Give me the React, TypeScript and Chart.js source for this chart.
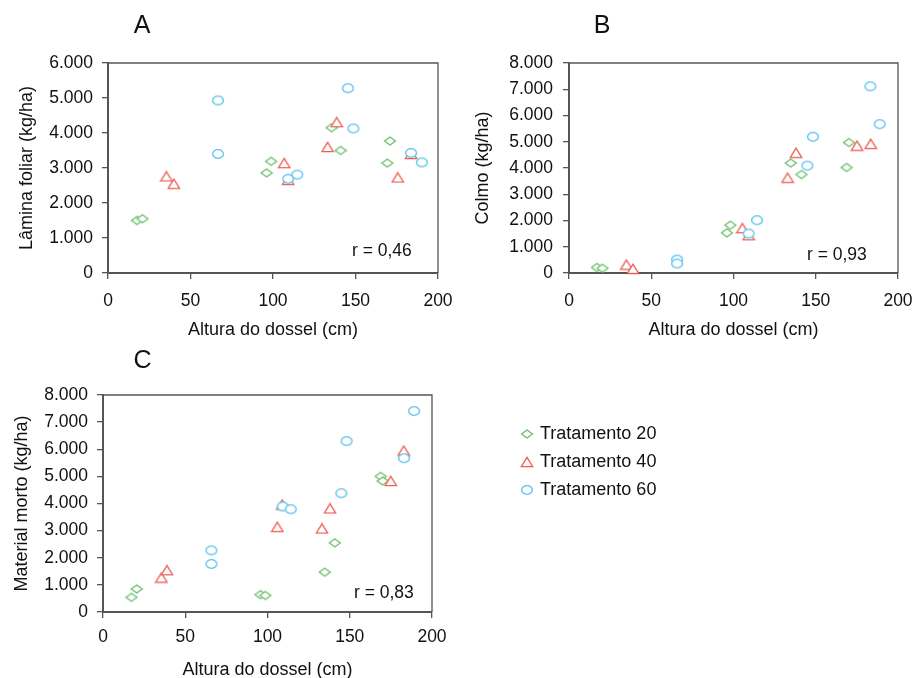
import React, { useEffect, useRef } from 'react';
import { Chart, registerables } from 'chart.js';
Chart.register(...registerables);

// ---------- data ----------
const seriesNames = ['Tratamento 20', 'Tratamento 40', 'Tratamento 60'];
const seriesColors = ['#69be6b', '#ef5f55', '#5cc3ee'];
const xTicksMax = 200;
const xStep = 50;

// Panel A – Lâmina foliar
const aHeight20 = [17.6, 20.9, 96.1, 98.9, 135.5, 141.0, 170.9, 169.3];
const aLamina20 = [1500, 1550, 2860, 3190, 4150, 3500, 3770, 3140];
const aHeight40 = [35.4, 39.9, 106.8, 109.2, 133.1, 138.6, 175.6, 183.7];
const aLamina40 = [2760, 2550, 3140, 2660, 3600, 4310, 2730, 3400];
const aHeight60 = [66.7, 66.7, 109.2, 114.7, 145.4, 148.7, 183.7, 190.2];
const aLamina60 = [4930, 3400, 2690, 2810, 5280, 4130, 3430, 3160];

// Panel B – Colmo
const bHeight20 = [17.0, 20.3, 96.0, 98.1, 134.8, 141.3, 170.2, 168.8];
const bColmo20 = [210, 180, 1530, 1820, 4190, 3750, 4970, 4020];
const bHeight40 = [34.9, 38.9, 105.4, 109.2, 132.9, 138.0, 175.1, 183.4];
const bColmo40 = [320, 160, 1710, 1440, 3630, 4580, 4850, 4920];
const bHeight60 = [65.7, 65.7, 109.2, 114.3, 144.9, 148.3, 183.2, 188.9];
const bColmo60 = [510, 360, 1500, 2010, 4090, 5190, 7110, 5670];

// Panel C – Material morto
const cHeight20 = [17.3, 20.5, 95.7, 98.7, 134.8, 140.9, 168.8, 170.0];
const cMorto20 = [540, 850, 640, 610, 1470, 2550, 5000, 4830];
const cHeight40 = [35.5, 38.9, 106.0, 109.0, 133.1, 138.0, 174.9, 182.8];
const cMorto40 = [1270, 1540, 3140, 3960, 3080, 3820, 4830, 5950];
const cHeight60 = [65.9, 65.9, 109.2, 114.1, 144.9, 148.1, 183.0, 189.1];
const cMorto60 = [2270, 1770, 3890, 3790, 4380, 6300, 5670, 7410];

const FONT = '"Liberation Sans", Arial, sans-serif';

type Shape = 'diamond' | 'triangle' | 'ellipse';
const shapes: Shape[] = ['diamond', 'triangle', 'ellipse'];

function makeMarker(shape: Shape, color: string) {
  const c = document.createElement('canvas');
  c.width = 14;
  c.height = 12;
  const ctx = c.getContext('2d')!;
  ctx.lineWidth = 1.3;
  ctx.strokeStyle = color;
  ctx.fillStyle = '#ffffff';
  ctx.beginPath();
  if (shape === 'diamond') {
    ctx.moveTo(7, 2);
    ctx.lineTo(12.5, 6);
    ctx.lineTo(7, 10);
    ctx.lineTo(1.5, 6);
    ctx.closePath();
  } else if (shape === 'triangle') {
    ctx.moveTo(7, 1.3);
    ctx.lineTo(12.7, 10.6);
    ctx.lineTo(1.3, 10.6);
    ctx.closePath();
  } else {
    ctx.ellipse(7, 6, 5.4, 4.3, 0, 0, Math.PI * 2);
  }
  ctx.fill();
  ctx.stroke();
  return c;
}

const fmt = (v: number) => (v === 0 ? '0' : `${Math.round(v / 1000)}.000`);

const framePlugin = {
  id: 'frameText',
  beforeDatasetsDraw(chart: any) {
    const { ctx, chartArea } = chart;
    ctx.save();
    ctx.strokeStyle = '#555';
    ctx.lineWidth = 1.3;
    ctx.beginPath();
    ctx.moveTo(chartArea.left, chartArea.top);
    ctx.lineTo(chartArea.right, chartArea.top);
    ctx.lineTo(chartArea.right, chartArea.bottom);
    ctx.stroke();
    ctx.restore();
  },
  afterDraw(chart: any, _a: any, opts: any) {
    const { ctx } = chart;
    ctx.save();
    ctx.fillStyle = '#111';
    ctx.textBaseline = 'alphabetic';
    ctx.textAlign = 'center';
    ctx.font = `25px ${FONT}`;
    ctx.fillText(opts.letter, opts.letterX, opts.letterY);
    ctx.textAlign = 'left';
    ctx.font = `17.5px ${FONT}`;
    ctx.fillText(opts.r, opts.rX, opts.rY);
    ctx.restore();
  },
};

interface PanelProps {
  left: number; top: number; width: number; height: number;
  padTop: number; padRight: number; yWidth: number; xHeight: number;
  yTitlePad: number; yTickPad: number; xTickPad: number; xTitlePad: number;
  yMax: number; yTitle: string;
  letter: string; letterX: number; letterY: number;
  r: string; rX: number; rY: number;
  xs: number[][]; ys: number[][];
}

function Panel(p: PanelProps) {
  const ref = useRef<HTMLCanvasElement>(null);
  useEffect(() => {
    const markers = shapes.map((s, i) => makeMarker(s, seriesColors[i]));
    const datasets = [2, 1, 0].map((i) => ({
      label: seriesNames[i],
      data: p.xs[i].map((x, k) => ({ x, y: p.ys[i][k] })),
      pointStyle: markers[i] as any,
      pointRadius: 6,
      borderColor: seriesColors[i],
      backgroundColor: '#fff',
      clip: false as any,
    }));
    const chart = new Chart(ref.current!, {
      type: 'scatter',
      data: { datasets },
      options: {
        animation: false,
        responsive: false,
        devicePixelRatio: 1,
        layout: { padding: { top: p.padTop, right: p.padRight, bottom: 0, left: 0 } },
        plugins: {
          legend: { display: false },
          tooltip: { enabled: false },
          frameText: { letter: p.letter, letterX: p.letterX, letterY: p.letterY, r: p.r, rX: p.rX, rY: p.rY },
        } as any,
        scales: {
          x: {
            type: 'linear',
            min: 0,
            max: xTicksMax,
            ticks: { stepSize: xStep, padding: p.xTickPad, color: '#111', font: { family: FONT, size: 17.5 }, maxRotation: 0 },
            grid: { drawOnChartArea: false, drawTicks: true, tickLength: 6, color: '#555', lineWidth: 1.3 },
            border: { display: true, color: '#555', width: 2 },
            title: { display: true, text: 'Altura do dossel (cm)', color: '#111', font: { family: FONT, size: 18 }, padding: { top: 0, bottom: p.xTitlePad } },
            afterFit: (s: any) => { s.height = p.xHeight; s.paddingLeft = 0; s.paddingRight = 0; },
          },
          y: {
            type: 'linear',
            min: 0,
            max: p.yMax,
            ticks: { stepSize: 1000, padding: p.yTickPad, color: '#111', font: { family: FONT, size: 17.5 }, callback: (v: any) => fmt(Number(v)) },
            grid: { drawOnChartArea: false, drawTicks: true, tickLength: 6, color: '#555', lineWidth: 1.3 },
            border: { display: true, color: '#555', width: 2 },
            title: { display: true, text: p.yTitle, color: '#111', font: { family: FONT, size: 18 }, padding: { top: p.yTitlePad, bottom: 0 } },
            afterFit: (s: any) => { s.width = p.yWidth; s.paddingTop = 0; s.paddingBottom = 0; },
          },
        },
      },
      plugins: [framePlugin],
    });
    return () => chart.destroy();
  }, []);
  return (
    <canvas
      ref={ref}
      width={p.width}
      height={p.height}
      style={{ position: 'absolute', left: p.left, top: p.top, width: p.width, height: p.height }}
    />
  );
}

function LegendChart() {
  const ref = useRef<HTMLCanvasElement>(null);
  useEffect(() => {
    const markers = shapes.map((s, i) => makeMarker(s, seriesColors[i]));
    const chart = new Chart(ref.current!, {
      type: 'scatter',
      data: {
        datasets: seriesNames.map((n, i) => ({ label: n, data: [], pointStyle: markers[i] as any, borderColor: seriesColors[i] })),
      },
      options: {
        animation: false,
        responsive: false,
        devicePixelRatio: 1,
        layout: { padding: 0 },
        scales: { x: { display: false }, y: { display: false } },
        plugins: {
          tooltip: { enabled: false },
          legend: {
            display: true,
            position: 'left',
            align: 'start',
            labels: {
              usePointStyle: true,
              boxWidth: 8,
              padding: 10,
              color: '#111',
              font: { family: FONT, size: 18 },
              generateLabels: () =>
                seriesNames.map((n, i) => ({
                  text: n,
                  pointStyle: markers[i] as any,
                  fillStyle: '#fff',
                  strokeStyle: seriesColors[i],
                  lineWidth: 1,
                  hidden: false,
                  datasetIndex: i,
                  fontColor: '#111',
                })),
            },
          },
        },
      },
    });
    return () => chart.destroy();
  }, []);
  return (
    <canvas ref={ref} width={400} height={100} style={{ position: 'absolute', left: 513, top: 415, width: 400, height: 100 }} />
  );
}

export default function App() {
  return (
    <div style={{ position: 'absolute', left: 0, top: 0, width: 917, height: 678, overflow: 'hidden', background: '#fff' }}>
      <Panel
        left={0} top={0} width={460} height={345}
        padTop={63} padRight={22} yWidth={108} xHeight={72}
        yTitlePad={16} yTickPad={9} xTickPad={12} xTitlePad={4}
        yMax={6000} yTitle="Lâmina foliar (kg/ha)"
        letter="A" letterX={142} letterY={33}
        r="r = 0,46" rX={352} rY={256}
        xs={[aHeight20, aHeight40, aHeight60]} ys={[aLamina20, aLamina40, aLamina60]}
      />
      <Panel
        left={460} top={0} width={457} height={345}
        padTop={63} padRight={19} yWidth={109} xHeight={72}
        yTitlePad={12} yTickPad={10} xTickPad={12} xTitlePad={4}
        yMax={8000} yTitle="Colmo (kg/ha)"
        letter="B" letterX={142} letterY={33}
        r="r = 0,93" rX={347} rY={260}
        xs={[bHeight20, bHeight40, bHeight60]} ys={[bColmo20, bColmo40, bColmo60]}
      />
      <Panel
        left={0} top={340} width={460} height={345}
        padTop={55} padRight={28} yWidth={103} xHeight={73}
        yTitlePad={11} yTickPad={9} xTickPad={9} xTitlePad={4}
        yMax={8000} yTitle="Material morto (kg/ha)"
        letter="C" letterX={142.5} letterY={28}
        r="r = 0,83" rX={354} rY={258}
        xs={[cHeight20, cHeight40, cHeight60]} ys={[cMorto20, cMorto40, cMorto60]}
      />
      <LegendChart />
    </div>
  );
}
